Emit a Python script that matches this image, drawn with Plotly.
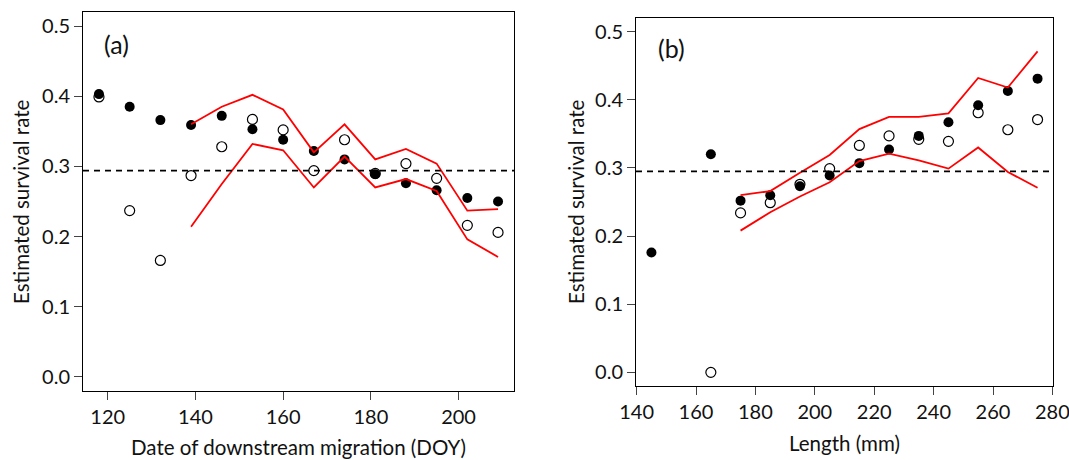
import plotly.graph_objects as go

# ---- Panel (a): date of downstream migration (DOY)
doy = [118, 125, 132, 139, 146, 153, 160, 167, 174, 181, 188, 195, 202, 209]
a_filled = [0.403, 0.385, 0.366, 0.359, 0.372, 0.353, 0.338, 0.322, 0.310, 0.289, 0.276, 0.266, 0.255, 0.250]
a_open = [0.399, 0.237, 0.166, 0.287, 0.328, 0.367, 0.352, 0.294, 0.338, 0.290, 0.304, 0.283, 0.216, 0.206]
a_upper = [None, None, None, 0.360, 0.385, 0.402, 0.381, 0.320, 0.360, 0.310, 0.325, 0.304, 0.237, 0.239]
a_lower = [None, None, None, 0.214, 0.275, 0.332, 0.323, 0.270, 0.314, 0.270, 0.282, 0.265, 0.196, 0.171]
a_ref = 0.294

# ---- Panel (b): length (mm)
length = [145, 165, 175, 185, 195, 205, 215, 225, 235, 245, 255, 265, 275]
b_filled = [0.176, 0.320, 0.252, 0.260, 0.273, 0.289, 0.307, 0.327, 0.347, 0.367, 0.392, 0.413, 0.431]
b_open = [None, 0.000, 0.234, 0.249, 0.276, 0.299, 0.333, 0.347, 0.342, 0.339, 0.381, 0.356, 0.371]
b_upper = [None, None, 0.260, 0.266, 0.293, 0.319, 0.357, 0.375, 0.375, 0.380, 0.432, 0.418, 0.471]
b_lower = [None, None, 0.208, 0.235, 0.258, 0.279, 0.310, 0.321, 0.311, 0.299, 0.330, 0.294, 0.271]
b_ref = 0.295

y_ticks = [0.0, 0.1, 0.2, 0.3, 0.4, 0.5]
a_xticks = [120, 140, 160, 180, 200]
b_xticks = [140, 160, 180, 200, 220, 240, 260, 280]

FONT = "Lato"
W, H = 1069, 460

fig = go.Figure()

def add_panel(x, filled, opn, upper, lower, xa, ya):
    fig.add_trace(go.Scatter(x=x, y=opn, mode="markers", xaxis=xa, yaxis=ya,
                             marker=dict(symbol="circle-open", size=10, color="black",
                                         line=dict(width=1.2, color="black")),
                             showlegend=False))
    fig.add_trace(go.Scatter(x=x, y=filled, mode="markers", xaxis=xa, yaxis=ya,
                             marker=dict(symbol="circle", size=10, color="black"),
                             showlegend=False))
    for s in (upper, lower):
        fig.add_trace(go.Scatter(x=x, y=s, mode="lines", xaxis=xa, yaxis=ya,
                                 line=dict(color="#ff0000", width=1.8),
                                 connectgaps=False, showlegend=False))

add_panel(doy, a_filled, a_open, a_upper, a_lower, "x", "y")
add_panel(length, b_filled, b_open, b_upper, b_lower, "x2", "y2")

fig.add_shape(type="line", xref="x domain", yref="y", x0=0, x1=1, y0=a_ref, y1=a_ref,
              line=dict(color="black", width=1.6, dash="6px,5px"))
fig.add_shape(type="line", xref="x2 domain", yref="y2", x0=0, x1=1, y0=b_ref, y1=b_ref,
              line=dict(color="black", width=1.6, dash="6px,5px"))

def span(vals):
    lo, hi = min(vals), max(vals)
    d = (hi - lo) * 0.04
    return [lo - d, hi + d]

axis_common = dict(showline=True, mirror=True, linecolor="black", linewidth=1,
                   ticks="outside", ticklen=8, tickwidth=1, tickcolor="#444",
                   showgrid=False, zeroline=False, automargin=False,
                   ticklabeloverflow="allow",
                   tickfont=dict(family=FONT, size=20, color="#111"))

fig.update_layout(
    width=W, height=H,
    margin=dict(l=0, r=0, t=0, b=0),
    paper_bgcolor="white", plot_bgcolor="white",
    xaxis=dict(domain=[83 / W, 514 / W], range=span(doy), tickvals=a_xticks, anchor="y", **axis_common),
    yaxis=dict(domain=[1 - 391 / H, 1 - 12 / H], range=[-0.02, 0.52], tickvals=y_ticks,
               tickformat=".1f", anchor="x", **axis_common),
    xaxis2=dict(domain=[636 / W, 1053 / W], range=span(length), tickvals=b_xticks, anchor="y2", **axis_common),
    yaxis2=dict(domain=[1 - 386 / H, 1 - 18 / H], range=[-0.02, 0.52], tickvals=y_ticks,
                tickformat=".1f", anchor="x2", **axis_common),
)

annots = [
    dict(text="(a)", x=102 / W, y=1 - 44 / H, xanchor="left", yanchor="middle", font=dict(size=25)),
    dict(text="(b)", x=656 / W, y=1 - 48 / H, xanchor="left", yanchor="middle", font=dict(size=25)),
    dict(text="Date of downstream migration (DOY)", x=298.5 / W, y=1 - 447 / H,
         xanchor="center", yanchor="middle", font=dict(size=20.5)),
    dict(text="Length (mm)", x=844.5 / W, y=1 - 443 / H,
         xanchor="center", yanchor="middle", font=dict(size=20.5)),
    dict(text="Estimated survival rate", x=21 / W, y=1 - 202 / H, textangle=-90,
         xanchor="center", yanchor="middle", font=dict(size=20.5)),
    dict(text="Estimated survival rate", x=576 / W, y=1 - 202 / H, textangle=-90,
         xanchor="center", yanchor="middle", font=dict(size=20.5)),
]
for a in annots:
    a["font"].update(family=FONT, color="#111")
    fig.add_annotation(xref="paper", yref="paper", showarrow=False, **a)

fig.write_html("out.html")
